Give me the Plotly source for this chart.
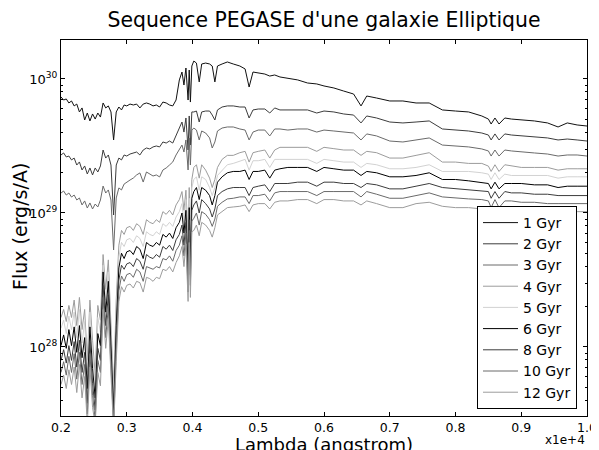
import plotly.graph_objects as go

# Wavelengths (Angstrom)
wavelength = [2000, 2040, 2080, 2120, 2160, 2200, 2240, 2280, 2320, 2360, 2400, 2440, 2480, 2520, 2560,
              2600, 2640, 2680, 2720, 2760, 2800, 2840, 2880, 2920, 2960,
              3000, 3050, 3100, 3150, 3200, 3250, 3300, 3350, 3400, 3450, 3500, 3550, 3600, 3650, 3700,
              3750, 3800,
              3840, 3870, 3900, 3933, 3950, 3968, 3990,
              4020, 4060, 4102, 4140, 4200, 4260, 4300, 4340, 4380, 4450,
              4530, 4620, 4720, 4800, 4861, 4920, 5000, 5100, 5175, 5250,
              5330, 5450, 5600, 5750, 5890, 6000, 6150, 6300, 6450, 6563,
              6650, 6800, 7000, 7200, 7400, 7600, 7800, 8000, 8200, 8400,
              8500, 8542, 8600, 8662, 8750, 8850, 9000, 9200, 9400, 9560,
              9700, 9850, 10000]

# log10 of flux (erg/s/A) for each age
logflux_1gyr = [29.866, 29.843, 29.851, 29.821, 29.836, 29.799, 29.813, 29.754, 29.784, 29.694, 29.746, 29.687, 29.739, 29.701, 29.746,
                29.716, 29.821, 29.784, 29.799, 29.754, 29.545, 29.754, 29.791, 29.769, 29.806,
                29.799, 29.813, 29.806, 29.813, 29.784, 29.813, 29.821, 29.813, 29.799, 29.806, 29.791, 29.828, 29.821, 29.806, 29.799,
                29.843, 29.993,
                30.052, 29.955, 30.082, 29.843, 30.067, 29.828, 30.097,
                30.134, 30.119, 29.978, 30.112, 30.119, 30.112, 30.097, 29.978, 30.097, 30.112,
                30.127, 30.112, 30.097, 30.075, 29.940, 30.052, 30.045, 30.037, 30.022, 30.030,
                30.015, 30.007, 29.993, 29.970, 29.963, 29.948, 29.933, 29.910, 29.888, 29.799,
                29.873, 29.858, 29.836, 29.836, 29.821, 29.821, 29.769, 29.761, 29.754, 29.724,
                29.701, 29.664, 29.709, 29.664, 29.709, 29.701, 29.694, 29.687, 29.672, 29.642,
                29.672, 29.657, 29.649]
logflux_2gyr = [29.433, 29.448, 29.418, 29.425, 29.396, 29.410, 29.358, 29.381, 29.321, 29.351, 29.291, 29.336, 29.284, 29.336, 29.306,
                29.351, 29.470, 29.410, 29.433, 29.358, 28.985, 29.358, 29.410, 29.396, 29.433,
                29.425, 29.440, 29.448, 29.455, 29.433, 29.470, 29.485, 29.478, 29.493, 29.500, 29.493, 29.530, 29.522, 29.537, 29.522,
                29.582, 29.634,
                29.679, 29.604, 29.709, 29.470, 29.724, 29.507, 29.754,
                29.754, 29.761, 29.679, 29.754, 29.761, 29.761, 29.731, 29.694, 29.769, 29.791,
                29.799, 29.799, 29.791, 29.791, 29.709, 29.769, 29.776, 29.776, 29.746, 29.784,
                29.769, 29.769, 29.769, 29.769, 29.746, 29.761, 29.754, 29.739, 29.731, 29.672,
                29.724, 29.709, 29.679, 29.672, 29.679, 29.687, 29.627, 29.619, 29.612, 29.597,
                29.582, 29.545, 29.590, 29.545, 29.590, 29.582, 29.575, 29.567, 29.560, 29.545,
                29.552, 29.545, 29.537]
logflux_3gyr = [29.149, 29.164, 29.134, 29.149, 29.119, 29.134, 29.097, 29.112, 29.060, 29.090, 29.037, 29.075, 29.030, 29.067, 29.045,
                29.097, 29.201, 29.149, 29.172, 29.097, 28.724, 29.112, 29.187, 29.172, 29.216,
                29.231, 29.246, 29.261, 29.284, 29.299, 29.231, 29.306, 29.291, 29.276, 29.284, 29.269, 29.321, 29.336, 29.358, 29.381,
                29.433, 29.470,
                29.507, 29.455, 29.545, 29.321, 29.560, 29.358, 29.619,
                29.634, 29.619, 29.545, 29.612, 29.597, 29.560, 29.485, 29.530, 29.612, 29.634,
                29.642, 29.642, 29.627, 29.619, 29.545, 29.604, 29.619, 29.619, 29.575, 29.627,
                29.627, 29.619, 29.627, 29.627, 29.604, 29.619, 29.612, 29.604, 29.597, 29.545,
                29.590, 29.575, 29.537, 29.530, 29.545, 29.560, 29.507, 29.500, 29.493, 29.478,
                29.463, 29.425, 29.470, 29.425, 29.470, 29.463, 29.455, 29.448, 29.440, 29.425,
                29.433, 29.433, 29.425]
logflux_4gyr = [28.22, 28.28, 28.19, 28.31, 28.22, 28.35, 28.16, 28.37, 28.13, 28.28, 27.90, 28.35, 28.05, 27.79, 28.31,
                28.20, 28.69, 28.43, 28.65, 28.20, 27.68, 28.35, 28.76, 28.87, 28.84,
                28.89, 28.90, 28.87, 28.92, 28.90, 28.84, 28.95, 28.93, 28.92, 28.95, 28.93, 29.01, 28.99, 29.02, 28.985,
                29.06, 29.10,
                29.16, 29.02, 29.17, 28.80, 29.19, 28.84, 29.25,
                29.34, 29.36, 29.26, 29.36, 29.32, 29.26, 29.19, 29.25, 29.34, 29.40,
                29.43, 29.43, 29.45, 29.46, 29.38, 29.45, 29.46, 29.47, 29.41, 29.47,
                29.49, 29.49, 29.49, 29.49, 29.46, 29.49, 29.48, 29.47, 29.47, 29.43,
                29.46, 29.45, 29.41, 29.41, 29.43, 29.45, 29.38, 29.38, 29.37, 29.37,
                29.35, 29.31, 29.36, 29.31, 29.36, 29.35, 29.34, 29.34, 29.34, 29.32,
                29.33, 29.33, 29.33]
logflux_5gyr = [28.14, 28.20, 28.10, 28.23, 28.13, 28.26, 28.07, 28.28, 28.03, 28.19, 27.81, 28.26, 27.96, 27.72, 28.22,
                28.11, 28.61, 28.35, 28.56, 28.11, 27.60, 28.26, 28.67, 28.78, 28.75,
                28.80, 28.81, 28.78, 28.83, 28.81, 28.75, 28.86, 28.84, 28.83, 28.86, 28.84, 28.92, 28.90, 28.93, 28.90,
                28.97, 29.01,
                29.07, 28.93, 29.10, 28.69, 29.11, 28.72, 29.19,
                29.25, 29.27, 29.17, 29.27, 29.25, 29.19, 29.13, 29.19, 29.28, 29.32,
                29.36, 29.37, 29.39, 29.40, 29.32, 29.39, 29.39, 29.40, 29.34, 29.40,
                29.40, 29.40, 29.40, 29.40, 29.37, 29.40, 29.39, 29.38, 29.38, 29.34,
                29.37, 29.36, 29.33, 29.33, 29.34, 29.36, 29.31, 29.31, 29.31, 29.30,
                29.29, 29.25, 29.30, 29.25, 29.29, 29.28, 29.28, 29.28, 29.28, 29.26,
                29.27, 29.27, 29.27]
logflux_6gyr = [28.01, 28.09, 27.99, 28.13, 28.01, 28.15, 27.96, 28.16, 27.92, 28.07, 27.69, 28.15, 27.84, 27.62, 28.10,
                28.01, 28.56, 28.26, 28.49, 28.01, 27.53, 28.16, 28.59, 28.70, 28.66,
                28.71, 28.72, 28.69, 28.75, 28.73, 28.66, 28.78, 28.76, 28.75, 28.78, 28.76, 28.84, 28.82, 28.85, 28.81,
                28.89, 28.93,
                29.00, 28.85, 29.02, 28.58, 29.04, 28.63, 29.11,
                29.16, 29.19, 29.10, 29.19, 29.17, 29.13, 29.06, 29.13, 29.23, 29.27,
                29.30, 29.31, 29.31, 29.32, 29.25, 29.31, 29.31, 29.32, 29.26, 29.32,
                29.33, 29.34, 29.34, 29.34, 29.31, 29.34, 29.33, 29.32, 29.32, 29.28,
                29.31, 29.30, 29.27, 29.27, 29.28, 29.30, 29.25, 29.25, 29.24, 29.23,
                29.22, 29.18, 29.23, 29.18, 29.22, 29.22, 29.22, 29.21, 29.21, 29.19,
                29.20, 29.20, 29.20]
logflux_8gyr = [27.90, 27.98, 27.88, 28.01, 27.90, 28.04, 27.85, 28.05, 27.81, 27.96, 27.58, 28.04, 27.73, 27.53, 27.99,
                27.90, 28.46, 28.16, 28.39, 27.92, 27.46, 28.07, 28.50, 28.61, 28.58,
                28.62, 28.63, 28.60, 28.66, 28.64, 28.58, 28.69, 28.67, 28.66, 28.69, 28.67, 28.75, 28.73, 28.76, 28.72,
                28.80, 28.84,
                28.91, 28.76, 28.93, 28.49, 28.95, 28.54, 29.02,
                29.06, 29.09, 29.00, 29.10, 29.07, 29.03, 28.97, 29.03, 29.13, 29.16,
                29.18, 29.19, 29.19, 29.19, 29.13, 29.19, 29.20, 29.21, 29.16, 29.22,
                29.22, 29.22, 29.23, 29.23, 29.20, 29.23, 29.23, 29.22, 29.22, 29.19,
                29.22, 29.21, 29.18, 29.18, 29.20, 29.22, 29.19, 29.18, 29.17, 29.16,
                29.16, 29.11, 29.16, 29.11, 29.16, 29.15, 29.15, 29.14, 29.14, 29.13,
                29.13, 29.13, 29.13]
logflux_10gyr = [27.81, 27.89, 27.79, 27.93, 27.81, 27.95, 27.76, 27.96, 27.72, 27.87, 27.50, 27.95, 27.64, 27.46, 27.90,
                 27.81, 28.37, 28.07, 28.30, 27.83, 27.42, 27.98, 28.42, 28.53, 28.49,
                 28.54, 28.55, 28.52, 28.58, 28.56, 28.49, 28.60, 28.59, 28.58, 28.60, 28.59, 28.66, 28.65, 28.68, 28.64,
                 28.72, 28.76,
                 28.83, 28.68, 28.85, 28.41, 28.87, 28.46, 28.94,
                 28.96, 29.00, 28.91, 29.01, 28.99, 28.95, 28.90, 28.955, 29.05, 29.08,
                 29.105, 29.11, 29.12, 29.12, 29.07, 29.13, 29.13, 29.14, 29.09, 29.15,
                 29.16, 29.16, 29.16, 29.16, 29.13, 29.16, 29.16, 29.16, 29.16, 29.12,
                 29.16, 29.14, 29.11, 29.11, 29.13, 29.15, 29.12, 29.11, 29.105, 29.10,
                 29.09, 29.04, 29.10, 29.04, 29.09, 29.09, 29.08, 29.08, 29.07, 29.07,
                 29.07, 29.07, 29.07]
logflux_12gyr = [27.72, 27.79, 27.69, 27.83, 27.72, 27.85, 27.66, 27.87, 27.62, 27.78, 27.42, 27.85, 27.55, 27.42, 27.81,
                 27.71, 28.28, 27.99, 28.21, 27.74, 27.38, 27.89, 28.34, 28.45, 28.41,
                 28.46, 28.47, 28.44, 28.49, 28.48, 28.41, 28.52, 28.51, 28.49, 28.52, 28.51, 28.58, 28.57, 28.60, 28.56,
                 28.63, 28.68,
                 28.75, 28.60, 28.77, 28.34, 28.78, 28.37, 28.86,
                 28.87, 28.91, 28.83, 28.93, 28.91, 28.87, 28.82, 28.89, 28.985, 29.01,
                 29.04, 29.045, 29.05, 29.06, 29.01, 29.06, 29.07, 29.07, 29.03, 29.08,
                 29.09, 29.09, 29.10, 29.10, 29.07, 29.10, 29.10, 29.09, 29.09, 29.06,
                 29.09, 29.07, 29.04, 29.04, 29.07, 29.08, 29.05, 29.04, 29.04, 29.03,
                 29.02, 28.98, 29.03, 28.98, 29.02, 29.02, 29.01, 29.01, 29.01, 29.00,
                 29.01, 29.01, 29.01]

ages = ["1 Gyr", "2 Gyr", "3 Gyr", "4 Gyr", "5 Gyr", "6 Gyr", "8 Gyr", "10 Gyr", "12 Gyr"]
series = [logflux_1gyr, logflux_2gyr, logflux_3gyr, logflux_4gyr, logflux_5gyr,
          logflux_6gyr, logflux_8gyr, logflux_10gyr, logflux_12gyr]
colors = ["#111111", "#3c3c3c", "#6a6a6a", "#9c9c9c", "#d2d2d2",
          "#000000", "#3c3c3c", "#6a6a6a", "#9c9c9c"]

x_tickvals = [2000, 3000, 4000, 5000, 6000, 7000, 8000, 9000, 10000]
x_ticktext = ["0.2", "0.3", "0.4", "0.5", "0.6", "0.7", "0.8", "0.9", "1.0"]
y_tickvals = [1e28, 1e29, 1e30]
y_ticktext = ["10<sup>28</sup>", "10<sup>29</sup>", "10<sup>30</sup>"]
y_minor = [k * 10.0 ** e for e in (27, 28, 29, 30) for k in range(2, 10)]

fig = go.Figure()
for name, vals, col in zip(ages, series, colors):
    fig.add_trace(go.Scatter(x=wavelength, y=[10.0 ** v for v in vals], mode="lines",
                             name=name, line=dict(color=col, width=1)))

font = "DejaVu Sans, Arial, sans-serif"
# the page body adds an 8px offset, so the figure is drawn 8px smaller
fig.update_layout(
    width=591, height=442,
    margin=dict(l=52.5, r=12, t=32, b=34, autoexpand=False),
    paper_bgcolor="white", plot_bgcolor="white",
    font=dict(family=font, size=12, color="black"),
    title=dict(text="Sequence PEGASE d'une galaxie Elliptique", x=0.5, xref="paper", xanchor="center",
               y=1 - 12 / 442, yanchor="middle", yref="container",
               font=dict(size=20.4, family=font, color="black")),
    showlegend=True,
    legend=dict(x=0.981, y=0.5585, xanchor="right", yanchor="top",
                bordercolor="black", borderwidth=1, bgcolor="white",
                font=dict(size=14, family=font), itemwidth=35, tracegroupgap=0),
)
fig.update_xaxes(range=[2000, 10000], tickvals=x_tickvals, ticktext=x_ticktext,
                 ticks="inside", ticklen=4, tickcolor="black", showline=True, linecolor="black",
                 linewidth=1, mirror="allticks", showgrid=False, zeroline=False, automargin=False,
                 tickfont=dict(size=12.5, family=font))
fig.update_yaxes(type="log", range=[27.485, 30.291], tickvals=y_tickvals, ticktext=y_ticktext,
                 ticks="inside", ticklen=4, tickcolor="black", showline=True, linecolor="black",
                 linewidth=1, mirror="allticks", showgrid=False, zeroline=False, automargin=False,
                 minor=dict(tickvals=y_minor, ticks="inside", ticklen=2, tickcolor="black", showgrid=False),
                 tickfont=dict(size=13, family=font))

fig.add_annotation(text="Lambda (angstrom)", xref="paper", yref="paper", x=0.5, y=-0.076,
                   xanchor="center", yanchor="middle", showarrow=False,
                   font=dict(size=18, family=font, color="black"))
fig.add_annotation(text="Flux (erg/s/A)", xref="paper", yref="paper", x=-0.077, y=0.504,
                   xanchor="center", yanchor="middle", textangle=-90, showarrow=False,
                   font=dict(size=19, family=font, color="black"))
fig.add_annotation(text="x1e+4", xref="paper", yref="paper", x=0.958, y=-0.063,
                   xanchor="center", yanchor="middle", showarrow=False,
                   font=dict(size=12, family=font, color="black"))

fig.write_html("out.html")
